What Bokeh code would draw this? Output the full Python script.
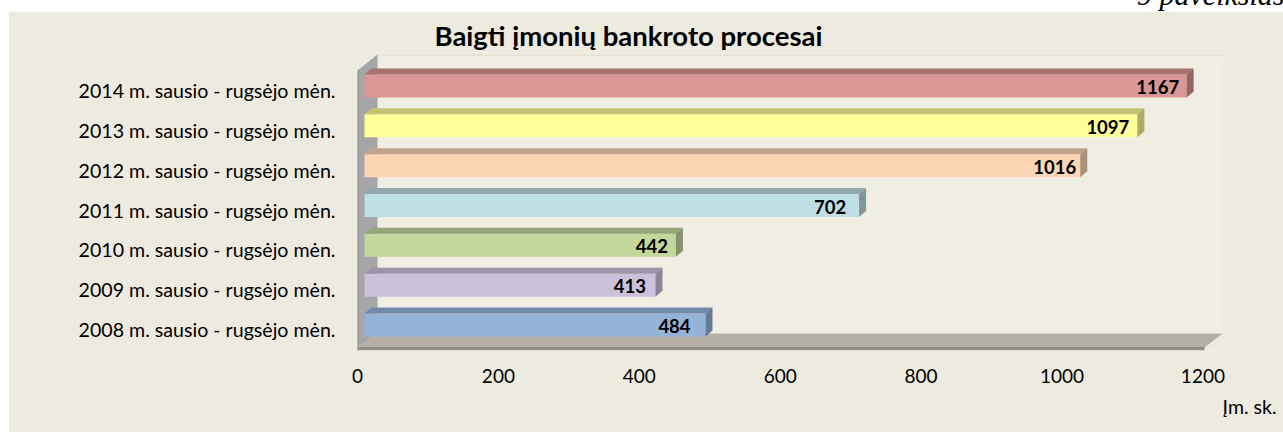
from bokeh.plotting import figure
from bokeh.layouts import column
from bokeh.models import ColumnDataSource, FixedTicker, Range1d, Title, Div
from bokeh.core.properties import value
from bokeh.embed import file_html
from bokeh.resources import INLINE

# ---- data (bottom to top) ----
categories = ["2008 m. sausio - rugsėjo mėn.", "2009 m. sausio - rugsėjo mėn.",
              "2010 m. sausio - rugsėjo mėn.", "2011 m. sausio - rugsėjo mėn.",
              "2012 m. sausio - rugsėjo mėn.", "2013 m. sausio - rugsėjo mėn.",
              "2014 m. sausio - rugsėjo mėn."]
values = [484, 413, 442, 702, 1016, 1097, 1167]
front_colors = ["#95B3D7", "#CCC1DA", "#C3D69B", "#BFDEE4", "#FCD5B5", "#FFFF99", "#D99694"]
top_colors = ["#7389AB", "#9D94A8", "#96A577", "#93A9AE", "#C2A48B", "#C4C475", "#A77472"]
side_colors = ["#66799A", "#8B8396", "#859269", "#829699", "#AC9179", "#ADAD68", "#946663"]
label_shift = [-31, -25.5, -24, -29, -25.5, -29.5, -29]
x_ticks = [0, 200, 400, 600, 800, 1000, 1200]
title_text = "Baigti įmonių bankroto procesai"
unit_text = "Įm. sk."
corner_text = "9 paveikslas"

BG = "#EDEADF"
OX, OY = 8, 11   # where the beige panel starts in the picture
W, H = 1283 - OX, 432 - OY
# frame geometry, in picture pixels
F_L, F_R, F_T, F_B = 357, 1225, 52, 350
PX_PER_X = 0.7045
PX_PER_Y = 39.83
Y0 = 329


def X(px):
    return (px - F_L) / PX_PER_X


def Y(px):
    return (Y0 - px) / PX_PER_Y


p = figure(width=W, height=H, output_backend="svg", toolbar_location=None,
           x_range=Range1d(X(F_L), X(F_R)), y_range=Range1d(Y(F_B), Y(F_T)),
           min_border_left=F_L - OX, min_border_right=OX + W - F_R, min_border_top=F_T - OY,
           min_border_bottom=OY + H - F_B, background_fill_color=BG, border_fill_color=BG,
           outline_line_color=None, margin=(0, 0, 0, OX))
p.grid.visible = False

p.title = Title(text=title_text, text_font="Lato", text_font_style="bold",
                text_font_size="27.5px", text_color="#000000", align="left", offset=77, standoff=2)

p.xaxis.ticker = FixedTicker(ticks=x_ticks)
p.xaxis.axis_line_color = None
p.xaxis.major_tick_line_color = None
p.xaxis.minor_tick_line_color = None
p.xaxis.major_label_text_font = "Lato"
p.xaxis.major_label_text_font_size = "19px"
p.xaxis.major_label_text_color = "#000000"
p.xaxis.major_label_standoff = 12

p.yaxis.ticker = FixedTicker(ticks=list(range(len(categories))))
p.yaxis.major_label_overrides = {i: c for i, c in enumerate(categories)}
p.yaxis.axis_line_color = None
p.yaxis.major_tick_line_color = None
p.yaxis.minor_tick_line_color = None
p.yaxis.major_label_text_font = "Lato"
p.yaxis.major_label_text_font_size = "19.6px"
p.yaxis.major_label_text_color = "#000000"
p.yaxis.major_label_standoff = 16

# chart box: back wall, side wall, floor
p.patch([X(a) for a in (377, 1222, 1222, 377)], [Y(b) for b in (55, 55, 333, 333)],
        fill_color="#F0EDE3", line_color=None)
p.line([X(377), X(1222)], [Y(55), Y(55)], line_color="#E2E0D4", line_width=1.5)
p.patch([X(a) for a in (357, 377, 377, 357)], [Y(b) for b in (70, 54, 333, 347)],
        fill_color="#A6A6A6", line_color=None)
p.patch([X(a) for a in (357, 377, 1222, 1204)], [Y(b) for b in (347, 333, 333, 347)],
        fill_color="#B3AFA6", line_color=None)
p.patch([X(a) for a in (356, 1204, 1204, 356)], [Y(b) for b in (346.5, 346.5, 350, 350)],
        fill_color="#8F8D87", line_color=None)
p.patch([X(a) for a in (356, 358, 358, 356)], [Y(b) for b in (70, 69, 350, 350)],
        fill_color="#8F8F8F", line_color=None)

# 3-D bars, from values through the scales
DX0 = X(364)      # gap between wall and bar start
DX = 7 / PX_PER_X  # depth, horizontal
DY = 6 / PX_PER_Y  # depth, vertical
HALF = 11.5 / PX_PER_Y
UP = 4.5 / PX_PER_Y

rows = list(range(len(values)))
x1 = [DX0 + v for v in values]
top = [i + UP + HALF for i in rows]
bot = [i + UP - HALF for i in rows]

p.quad(left=[DX0] * len(rows), right=x1, top=top, bottom=bot, fill_color=front_colors, line_color=None)
p.patches([[DX0, DX0 + DX, a + DX, a] for a in x1],
          [[t, t + DY, t + DY, t] for t in top], fill_color=top_colors, line_color=None)
p.patches([[a, a + DX, a + DX, a] for a in x1],
          [[t, t + DY, b + DY, b] for t, b in zip(top, bot)], fill_color=side_colors, line_color=None)

labels = ColumnDataSource(dict(x=x1, y=[(t + b) / 2 for t, b in zip(top, bot)],
                               text=[str(v) for v in values], dx=label_shift))
p.text(x="x", y="y", text="text", source=labels, text_font=value("Lato"), text_font_style="bold",
       text_font_size="18.5px", text_color="#000000", text_align="center", text_baseline="middle",
       x_offset="dx", y_offset=1)

p.add_layout(Title(text=unit_text, text_font="Lato", text_font_style="normal", text_font_size="19.5px",
                   text_color="#000000", align="right", offset=-51, standoff=14), "below")

corner = Div(text=f'<div style="position:absolute;left:1137px;top:-22px;white-space:nowrap;'
                  f'font:italic 30px \'Liberation Serif\';color:#000">{corner_text}</div>',
             width=1283, height=OY, margin=(0, 0, 0, 0),
             styles={"overflow": "hidden", "background": "#FFFFFF"})

open("out.html", "w").write(file_html(column(corner, p, spacing=0), INLINE))
